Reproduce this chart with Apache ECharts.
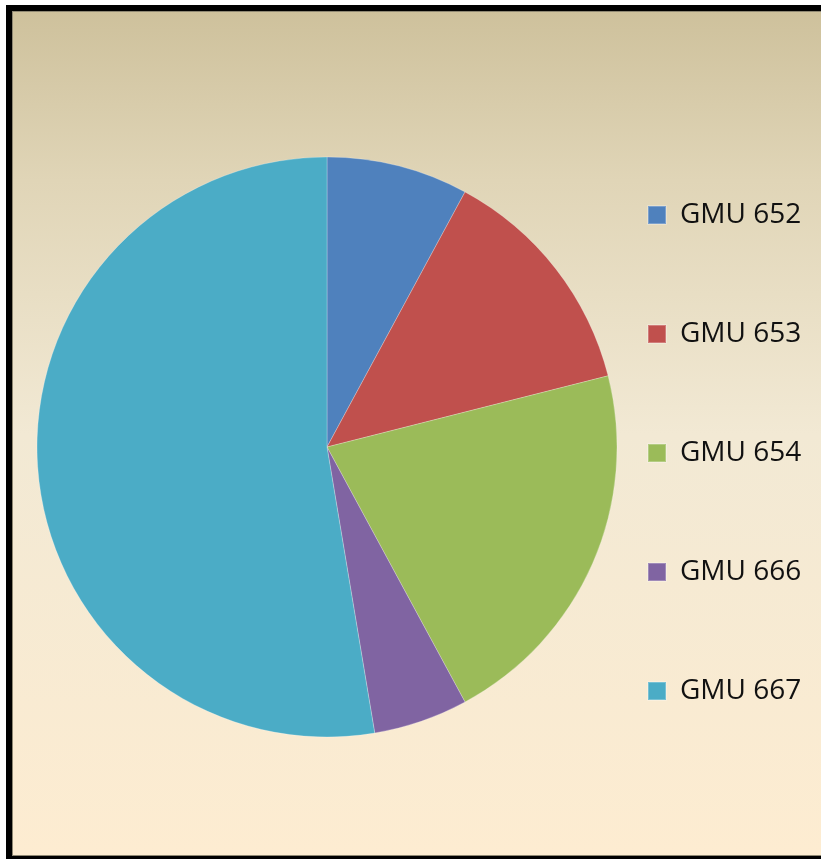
<!DOCTYPE html>
<html>
<head>
<meta charset="utf-8">
<style>
html,body{margin:0;padding:0;background:#fff;}
#chart{width:821px;height:859px;}
</style>
<script src="https://cdn.jsdelivr.net/npm/echarts@6/dist/echarts.min.js"></script>
</head>
<body>
<div id="chart"></div>
<script>
const categories = ['GMU 652', 'GMU 653', 'GMU 654', 'GMU 666', 'GMU 667'];
const values = [3, 5, 8, 2, 20];
const colors = ['#4f81bd', '#c0504d', '#9bbb59', '#8064a2', '#4bacc6'];

const chart = echarts.init(document.getElementById('chart'));
chart.setOption({
  backgroundColor: '#ffffff',
  animation: false,
  color: colors,
  graphic: [
    { type: 'rect', z: -10, silent: true, shape: { x: 6, y: 5, width: 830, height: 860 }, style: { fill: '#000000' } },
    { type: 'rect', z: -9, silent: true, shape: { x: 12, y: 11, width: 820, height: 845 }, style: { fill: '#8f8873' } },
    { type: 'rect', z: -8, silent: true, shape: { x: 13, y: 12, width: 820, height: 843 },
      style: { fill: new echarts.graphic.LinearGradient(0, 0, 0, 1, [
        { offset: 0, color: '#cec19c' },
        { offset: 0.2, color: '#e0d5b7' },
        { offset: 0.5, color: '#f2e9d4' },
        { offset: 1, color: '#fdecd1' }
      ]) } }
  ],
  legend: {
    orient: 'vertical',
    left: 642,
    top: 195,
    icon: 'rect',
    itemWidth: 18,
    itemHeight: 18,
    itemGap: 89,
    data: categories,
    textStyle: {
      fontFamily: 'Open Sans',
      fontSize: 28,
      color: '#111111',
      lineHeight: 30,
      padding: [0, 0, 0, 9]
    }
  },
  series: [{
    type: 'pie',
    center: [327, 447],
    radius: 290,
    startAngle: 90,
    clockwise: true,
    label: { show: false },
    labelLine: { show: false },
    itemStyle: { borderColor: 'rgba(255,255,255,0.25)', borderWidth: 1 },
    emphasis: { disabled: true },
    data: categories.map((c, i) => ({ name: c, value: values[i] }))
  }]
});
</script>
</body>
</html>
